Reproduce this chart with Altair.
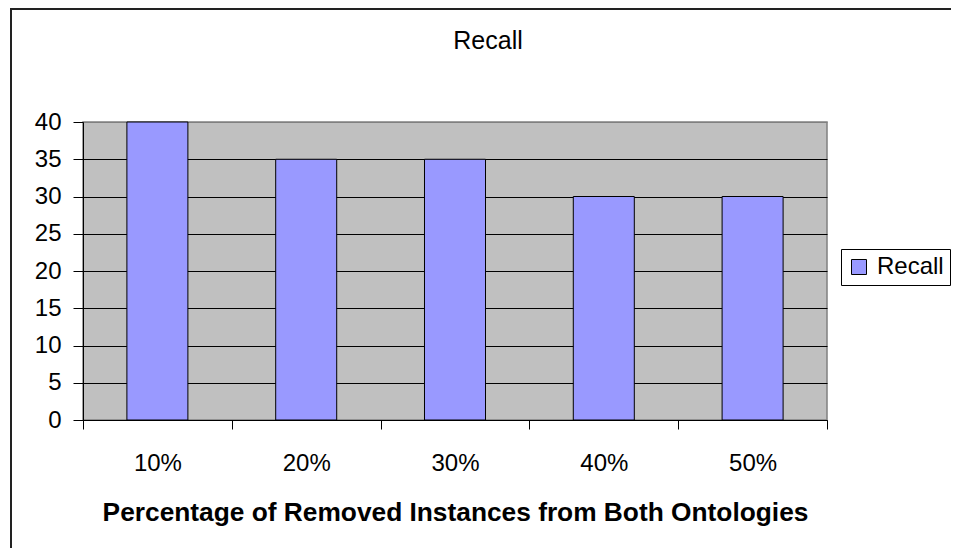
import altair as alt
import pandas as pd

categories = ["10%", "20%", "30%", "40%", "50%"]
recall = [40, 35, 35, 30, 30]
series_name = "Recall"
chart_title = "Recall"
x_title = "Percentage of Removed Instances from Both Ontologies"
y_ticks = [0, 5, 10, 15, 20, 25, 30, 35, 40]

df = pd.DataFrame({
    "pct": categories,
    "recall": recall,
    "series": [series_name] * len(categories),
})

FONT = "Liberation Sans"
W, H = 744, 298
PL, PT, PR, PB = 75, 114, 124, 128

bars = alt.Chart(df).mark_bar(
    stroke="black", strokeWidth=1, width=alt.RelativeBandSize(0.41)
).encode(
    x=alt.X(
        "pct:N", sort=categories,
        scale=alt.Scale(paddingInner=0, paddingOuter=0),
        axis=alt.Axis(
            title=x_title,
            labelAngle=0, tickBand="extent", tickSize=9, tickColor="black",
            domainColor="black", labelFont=FONT, labelFontSize=24,
            labelColor="black", labelPadding=22,
            titleFont=FONT, titleFontSize=26.3, titleFontWeight="bold",
            titleColor="black", titlePadding=24, grid=False,
        ),
    ),
    y=alt.Y(
        "recall:Q",
        scale=alt.Scale(domain=[0, 40], nice=False),
        axis=alt.Axis(
            values=y_ticks, title=None, grid=True,
            gridColor=alt.condition("datum.value == 40", alt.value("#808080"), alt.value("black")),
            gridWidth=1, gridOpacity=1, tickSize=10, tickColor="black", domainColor="black",
            labelFont=FONT, labelFontSize=24, labelColor="black", labelPadding=12,
        ),
    ),
    color=alt.Color(
        "series:N",
        scale=alt.Scale(range=["#9999FF"]),
        legend=alt.Legend(
            title=None, orient="none", legendX=758, legendY=127,
            strokeColor="black", fillColor="white", padding=6,
            symbolType="square", symbolSize=225, symbolStrokeColor="black",
            symbolStrokeWidth=1, labelFont=FONT, labelFontSize=24,
            labelColor="black", labelOffset=6,
        ),
    ),
)

title_text = alt.Chart(alt.Data(values=[{"t": chart_title}])).mark_text(
    font=FONT, fontSize=25, color="black", align="center", baseline="alphabetic"
).encode(text="t:N", x=alt.value(W / 2 + 33), y=alt.value(-73))

frame = alt.Data(values=[{"k": 0}])
left_line = alt.Chart(frame).mark_rule(color="#222", strokeWidth=2).encode(
    x=alt.value(-PL + 3), y=alt.value(-PT), y2=alt.value(H + PB)
)
top_line = alt.Chart(frame).mark_rule(color="#222", strokeWidth=2).encode(
    x=alt.value(-PL + 2), x2=alt.value(W + PR), y=alt.value(-PT + 1)
)

chart = alt.layer(bars, title_text, left_line, top_line).properties(
    width=W, height=H,
    autosize="none",
    padding={"left": PL, "top": PT, "right": PR, "bottom": PB},
).configure_view(fill="#C0C0C0", stroke="#808080", strokeWidth=1.5)

chart.save("out.html", embed_options={"renderer": "svg", "actions": False})
